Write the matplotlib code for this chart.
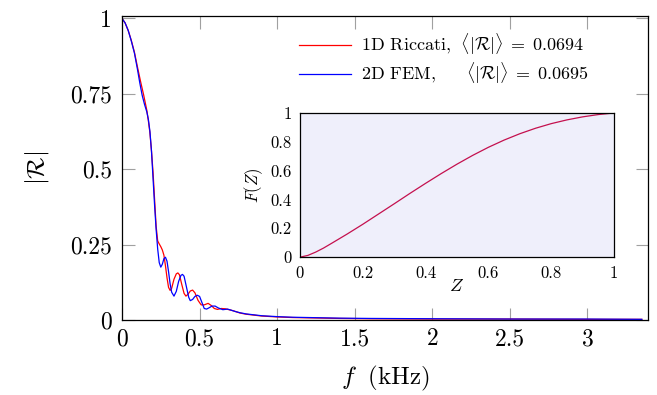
import matplotlib
matplotlib.use('Agg')
import matplotlib.pyplot as plt

plt.rcParams['font.family'] = ['cmr10', 'DejaVu Serif']
plt.rcParams['mathtext.fontset'] = 'cm'
plt.rcParams['axes.unicode_minus'] = False
plt.rcParams['axes.formatter.use_mathtext'] = True

# 1D Riccati
f_ric = [0.00, 0.02, 0.04, 0.06, 0.08, 0.10, 0.12, 0.14, 0.16, 0.17, 0.18, 0.19,
         0.20, 0.21, 0.22, 0.23, 0.24, 0.25, 0.26, 0.27, 0.28, 0.29, 0.30, 0.31,
         0.32, 0.335, 0.35, 0.36, 0.37, 0.385, 0.40, 0.412, 0.425, 0.44, 0.455,
         0.47, 0.49, 0.51, 0.53, 0.555, 0.575, 0.595, 0.615, 0.64, 0.665, 0.69,
         0.72, 0.76, 0.80, 0.85, 0.90, 1.00, 1.10, 1.20, 1.40, 1.60, 2.00, 2.50,
         3.00, 3.35]
r_ric = [1.000, 0.985, 0.960, 0.927, 0.888, 0.838, 0.790, 0.745, 0.695, 0.660,
         0.620, 0.560, 0.490, 0.400, 0.310, 0.262, 0.252, 0.243, 0.232, 0.215,
         0.180, 0.140, 0.108, 0.098, 0.105, 0.135, 0.153, 0.156, 0.150, 0.118,
         0.088, 0.079, 0.085, 0.096, 0.099, 0.090, 0.065, 0.050, 0.050, 0.055,
         0.048, 0.038, 0.035, 0.038, 0.037, 0.034, 0.030, 0.023, 0.019, 0.016,
         0.013, 0.010, 0.008, 0.007, 0.005, 0.004, 0.003, 0.003, 0.002, 0.002]

# 2D FEM
f_fem = [0.00, 0.02, 0.04, 0.06, 0.08, 0.10, 0.115, 0.13, 0.145, 0.16, 0.17,
         0.18, 0.19, 0.20, 0.21, 0.22, 0.23, 0.24, 0.25, 0.26, 0.27, 0.28, 0.29,
         0.30, 0.31, 0.32, 0.335, 0.35, 0.365, 0.38, 0.39, 0.40, 0.415, 0.43,
         0.44, 0.455, 0.47, 0.485, 0.50, 0.515, 0.53, 0.545, 0.56, 0.58, 0.60,
         0.62, 0.65, 0.68, 0.70, 0.73, 0.76, 0.80, 0.85, 0.90, 1.00, 1.10, 1.20,
         1.40, 1.60, 2.00, 2.50, 3.00, 3.35]
r_fem = [1.000, 0.985, 0.960, 0.925, 0.885, 0.830, 0.785, 0.745, 0.715, 0.690,
         0.665, 0.625, 0.560, 0.470, 0.380, 0.300, 0.235, 0.190, 0.175, 0.185,
         0.203, 0.208, 0.195, 0.160, 0.120, 0.092, 0.079, 0.095, 0.128, 0.148,
         0.151, 0.145, 0.110, 0.075, 0.064, 0.068, 0.078, 0.082, 0.078, 0.058,
         0.038, 0.036, 0.040, 0.046, 0.046, 0.040, 0.034, 0.036, 0.033, 0.028,
         0.024, 0.020, 0.017, 0.014, 0.011, 0.009, 0.008, 0.006, 0.005, 0.004,
         0.003, 0.003, 0.002]

# inset profile F(Z)
z_in = [0.0, 0.025, 0.05, 0.075, 0.1, 0.15, 0.2, 0.25, 0.3, 0.35, 0.4, 0.45,
        0.5, 0.55, 0.6, 0.65, 0.7, 0.75, 0.8, 0.85, 0.9, 0.95, 1.0]
F_in = [0.0, 0.012, 0.035, 0.063, 0.095, 0.160, 0.228, 0.299, 0.370, 0.442,
        0.512, 0.580, 0.645, 0.706, 0.762, 0.812, 0.856, 0.894, 0.926, 0.952,
        0.973, 0.989, 1.0]

lbl_ric = r'1D Riccati, $\;\langle|\mathcal{R}|\rangle\;=\;0.0694$'
lbl_fem = r'2D FEM, $\quad\;\;\langle|\mathcal{R}|\rangle\;=\;0.0695$'

fig = plt.figure(figsize=(6.57, 3.95), dpi=100)
ax = fig.add_axes([0.1857, 0.19, 0.8006, 0.7695])
ax.plot(f_ric, r_ric, color='red', lw=0.9, label=lbl_ric)
ax.plot(f_fem, r_fem, color='blue', lw=0.9, label=lbl_fem)
ax.set_xlim(0, 3.39)
ax.set_ylim(0, 1.008)
ax.set_xticks([0, 0.5, 1, 1.5, 2, 2.5, 3])
ax.set_xticklabels(['0', '0.5', '1', '1.5', '2', '2.5', '3'])
ax.set_yticks([0, 0.25, 0.5, 0.75, 1])
ax.set_yticklabels(['0', '0.25', '0.5', '0.75', '1'])
ax.tick_params(direction='in', length=9, width=0.8, color='#a0a0a0',
               top=True, right=True, labelsize=17)
ax.tick_params(axis='x', pad=6)
ax.tick_params(axis='y', pad=7)
for s in ax.spines.values():
    s.set_linewidth(0.9)
ax.set_xlabel(r'$f\;$ (kHz)', fontsize=18, labelpad=10)
ax.set_ylabel(r'$|\mathcal{R}|$', fontsize=18, labelpad=14)
ax.legend(loc='upper left', bbox_to_anchor=(0.455, 0.92),
          bbox_transform=fig.transFigure, frameon=False, borderpad=0,
          borderaxespad=0, fontsize=13, handlelength=2.9, labelspacing=0.2,
          handletextpad=0.55)

ins = fig.add_axes([0.4566, 0.349, 0.478, 0.365])
ins.set_facecolor('#efeffb')
ins.plot(z_in, F_in, color='#c4104e', lw=0.9)
ins.set_xlim(0, 1)
ins.set_ylim(0, 1)
ins.set_xticks([0, 0.2, 0.4, 0.6, 0.8, 1])
ins.set_xticklabels(['0', '0.2', '0.4', '0.6', '0.8', '1'])
ins.set_yticks([0, 0.2, 0.4, 0.6, 0.8, 1])
ins.set_yticklabels(['0', '0.2', '0.4', '0.6', '0.8', '1'])
ins.tick_params(length=0, labelsize=12, pad=6)
for s in ins.spines.values():
    s.set_linewidth(0.9)
ins.set_xlabel(r'$Z$', fontsize=13, labelpad=-2)
ins.set_ylabel(r'$F(Z)$', fontsize=12, labelpad=4)

fig.savefig('out.png', dpi=100)
